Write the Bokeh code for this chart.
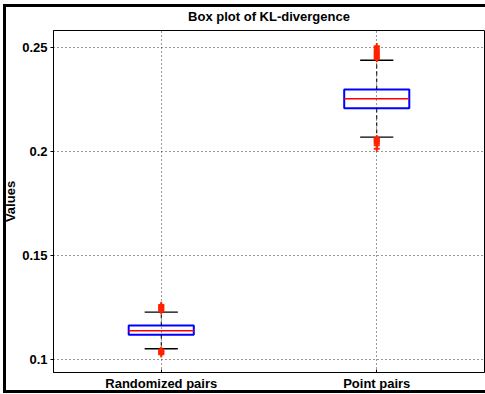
from bokeh.plotting import figure
from bokeh.models import FixedTicker, Range1d
from bokeh.embed import file_html
from bokeh.resources import INLINE

# ---- data ----
categories = ["Randomized pairs", "Point pairs"]
positions = [1, 2]
q1 = [0.1118, 0.2206]
median = [0.1137, 0.2252]
q3 = [0.1163, 0.2297]
whisker_low = [0.1051, 0.2068]
whisker_high = [0.1227, 0.2437]
outliers_random = [0.1231, 0.1236, 0.1240, 0.1245, 0.1249, 0.1254, 0.1258, 0.1262,
                   0.1048, 0.1044, 0.1040, 0.1036, 0.1032, 0.1028, 0.1024]
outliers_point = [0.2442, 0.2448, 0.2454, 0.2460, 0.2466, 0.2472, 0.2478, 0.2485, 0.2492, 0.2500, 0.2505,
                  0.2063, 0.2059, 0.2055, 0.2050, 0.2046, 0.2041, 0.2035, 0.2028, 0.2012]
y_ticks = [0.1, 0.15, 0.2, 0.25]
y_tick_labels = ["0.1", "0.15", "0.2", "0.25"]

FONT = "Liberation Sans"
box_half = 0.151
cap_half = 0.077

p = figure(width=485, height=394, x_range=Range1d(0.5, 2.5), y_range=Range1d(0.0937, 0.258),
           output_backend="svg", toolbar_location=None,
           min_border_left=53, min_border_right=1, min_border_top=29, min_border_bottom=22,
           title="Box plot of KL-divergence")
p.background_fill_color = "white"
p.border_fill_color = None
# outer figure border (left, top, bottom) drawn as inset shadows behind the transparent canvas
p.styles = {
    "box-shadow": ("inset 3px 0 0 0 white, inset 0 4px 0 0 white, inset 0 -1px 0 0 white, "
                   "inset 6px 0 0 0 black, inset 0 7px 0 0 black, inset 0 -4px 0 0 black"),
}
p.outline_line_color = "black"
p.outline_line_width = 1
p.outline_line_alpha = 1

p.title.text_font = FONT
p.title.text_font_size = "13px"
p.title.text_font_style = "bold"
p.title.align = "center"
p.title.standoff = 13
p.title.text_color = "black"

# axes
p.xaxis.ticker = FixedTicker(ticks=positions)
p.xaxis.major_label_overrides = {k: v for k, v in zip(positions, categories)}
p.yaxis.ticker = FixedTicker(ticks=y_ticks)
p.yaxis.major_label_overrides = {k: v for k, v in zip(y_ticks, y_tick_labels)}
p.yaxis.axis_label = "Values"
for ax in (p.xaxis[0], p.yaxis[0]):
    ax.major_label_text_font = FONT
    ax.major_label_text_font_size = "13px"
    ax.major_label_text_font_style = "bold"
    ax.major_label_text_color = "black"
    ax.axis_label_text_font = FONT
    ax.axis_label_text_font_size = "13px"
    ax.axis_label_text_font_style = "bold"
    ax.axis_label_text_color = "black"
    ax.axis_line_color = "black"
    ax.minor_tick_line_color = None
    ax.major_tick_line_color = "black"
p.xaxis.major_tick_out = 0
p.xaxis.major_tick_in = 3
p.xaxis.major_label_standoff = 3
p.yaxis.major_tick_out = 3
p.yaxis.major_tick_in = 0
p.yaxis.major_label_standoff = 3
p.yaxis.axis_label_standoff = 1

# grid
p.xgrid.ticker = FixedTicker(ticks=positions)
p.ygrid.ticker = FixedTicker(ticks=y_ticks)
for g in (p.xgrid[0], p.ygrid[0]):
    g.grid_line_color = "#333333"
    g.grid_line_dash = "1 3"
    g.grid_line_width = 1

# boxes
lefts = [x - box_half for x in positions]
rights = [x + box_half for x in positions]
p.quad(left=lefts, right=rights, bottom=q1, top=q3, fill_color=None,
       line_color="#0000ff", line_width=2)
p.segment(x0=lefts, x1=rights, y0=median, y1=median, line_color="#ff0000", line_width=1.5)
# whiskers
p.segment(x0=positions, x1=positions, y0=q3, y1=whisker_high, line_color="black",
          line_width=1, line_dash="4 3")
p.segment(x0=positions, x1=positions, y0=q1, y1=whisker_low, line_color="black",
          line_width=1, line_dash="4 3")
p.segment(x0=[x - cap_half for x in positions], x1=[x + cap_half for x in positions],
          y0=whisker_high, y1=whisker_high, line_color="black", line_width=1.4)
p.segment(x0=[x - cap_half for x in positions], x1=[x + cap_half for x in positions],
          y0=whisker_low, y1=whisker_low, line_color="black", line_width=1.4)
# outliers
p.scatter(x=[positions[0]] * len(outliers_random), y=outliers_random, marker="cross",
          size=6, line_color="#ff2200", line_width=1.8)
p.scatter(x=[positions[1]] * len(outliers_point), y=outliers_point, marker="cross",
          size=6, line_color="#ff2200", line_width=1.8)

open("out.html", "w").write(file_html(p, INLINE))
